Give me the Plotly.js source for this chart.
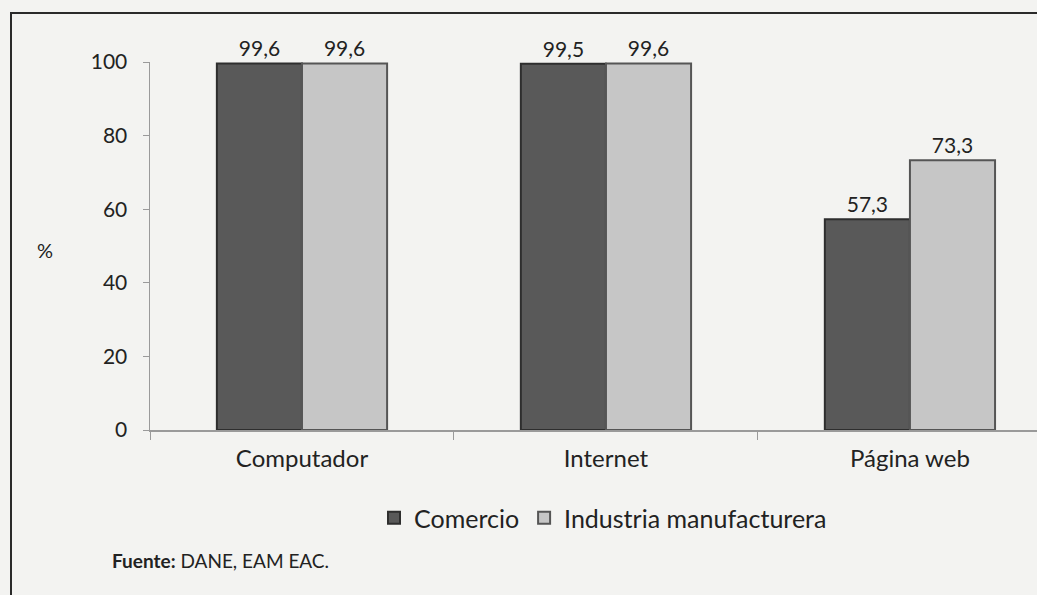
<!DOCTYPE html>
<html>
<head>
<meta charset="utf-8">
<script src="https://cdn.plot.ly/plotly-3.0.1.min.js"></script>
<style>
html,body{margin:0;padding:0;background:#f3f3f1;overflow:hidden;width:1037px;height:595px;}
#chart{position:absolute;left:0;top:0;width:1037px;height:595px;}
#frame{position:absolute;left:10px;top:12px;width:1100px;height:700px;border:2px solid #2a2a2a;pointer-events:none;}
</style>
</head>
<body>
<div id="chart"></div>
<div id="frame"></div>
<script>
const categories = ["Computador", "Internet", "Página web"];
const comercio = [99.6, 99.5, 57.3];
const industria = [99.6, 99.6, 73.3];
const seriesNames = ["Comercio", "Industria manufacturera"];
const yTicks = [0, 20, 40, 60, 80, 100];

const fmt = v => v.toFixed(1).replace('.', ',');
const fontFam = "Lato, 'Open Sans', sans-serif";

const traces = [
  {
    type: 'bar', x: categories, y: comercio, name: seriesNames[0],
    text: comercio.map(fmt), textposition: 'outside', cliponaxis: false,
    textfont: {family: fontFam, size: 21, color: '#222'},
    marker: {color: '#595959', line: {color: '#2e2e2e', width: 2}}
  },
  {
    type: 'bar', x: categories, y: industria, name: seriesNames[1],
    text: industria.map(fmt), textposition: 'outside', cliponaxis: false,
    textfont: {family: fontFam, size: 21, color: '#222'},
    marker: {color: '#c6c6c6', line: {color: '#555555', width: 2}}
  }
];

const layout = {
  width: 1037, height: 595,
  paper_bgcolor: 'rgba(0,0,0,0)', plot_bgcolor: 'rgba(0,0,0,0)',
  margin: {l: 150, r: 0, t: 62, b: 165},
  barmode: 'group', bargap: 0.44, bargroupgap: 0,
  font: {family: fontFam, size: 16, color: '#222'},
  showlegend: true,
  legend: {
    orientation: 'h', xref: 'container', yref: 'container',
    x: 603/1037, y: 1 - 518/595, xanchor: 'center', yanchor: 'middle',
    font: {family: fontFam, size: 25, color: '#222'},
    itemwidth: 30, traceorder: 'normal', bgcolor: 'rgba(0,0,0,0)'
  },
  xaxis: {
    type: 'category', range: [-0.5, 2.418],
    showline: true, linecolor: '#9a9a9a', linewidth: 2,
    ticks: 'outside', tickson: 'boundaries', ticklen: 8, tickcolor: '#9a9a9a',
    ticklabelstandoff: 6,
    tickfont: {family: fontFam, size: 24, color: '#222'},
    showgrid: false, zeroline: false
  },
  yaxis: {
    range: [0, 100], tickvals: yTicks, ticktext: yTicks.map(String),
    showline: true, linecolor: '#9a9a9a', linewidth: 1.5,
    ticks: 'outside', ticklen: 6, tickcolor: '#9a9a9a',
    ticklabelstandoff: 11,
    tickfont: {family: fontFam, size: 21, color: '#222'},
    showgrid: false, zeroline: false
  },
  annotations: [
    {text: '%', xref: 'paper', yref: 'paper', x: -0.118, y: 0.49, showarrow: false,
     xanchor: 'center', yanchor: 'middle', font: {family: fontFam, size: 20, color: '#222'}},
    {text: '<b>Fuente:</b> DANE, EAM EAC.', xref: 'paper', yref: 'paper',
     x: (110 - 150) / 887, y: (430 - 560) / 368, xanchor: 'left', yanchor: 'middle', showarrow: false,
     font: {family: fontFam, size: 19, color: '#222'}}
  ]
};

Plotly.newPlot('chart', traces, layout, {displayModeBar: false, staticPlot: true});
</script>
</body>
</html>
